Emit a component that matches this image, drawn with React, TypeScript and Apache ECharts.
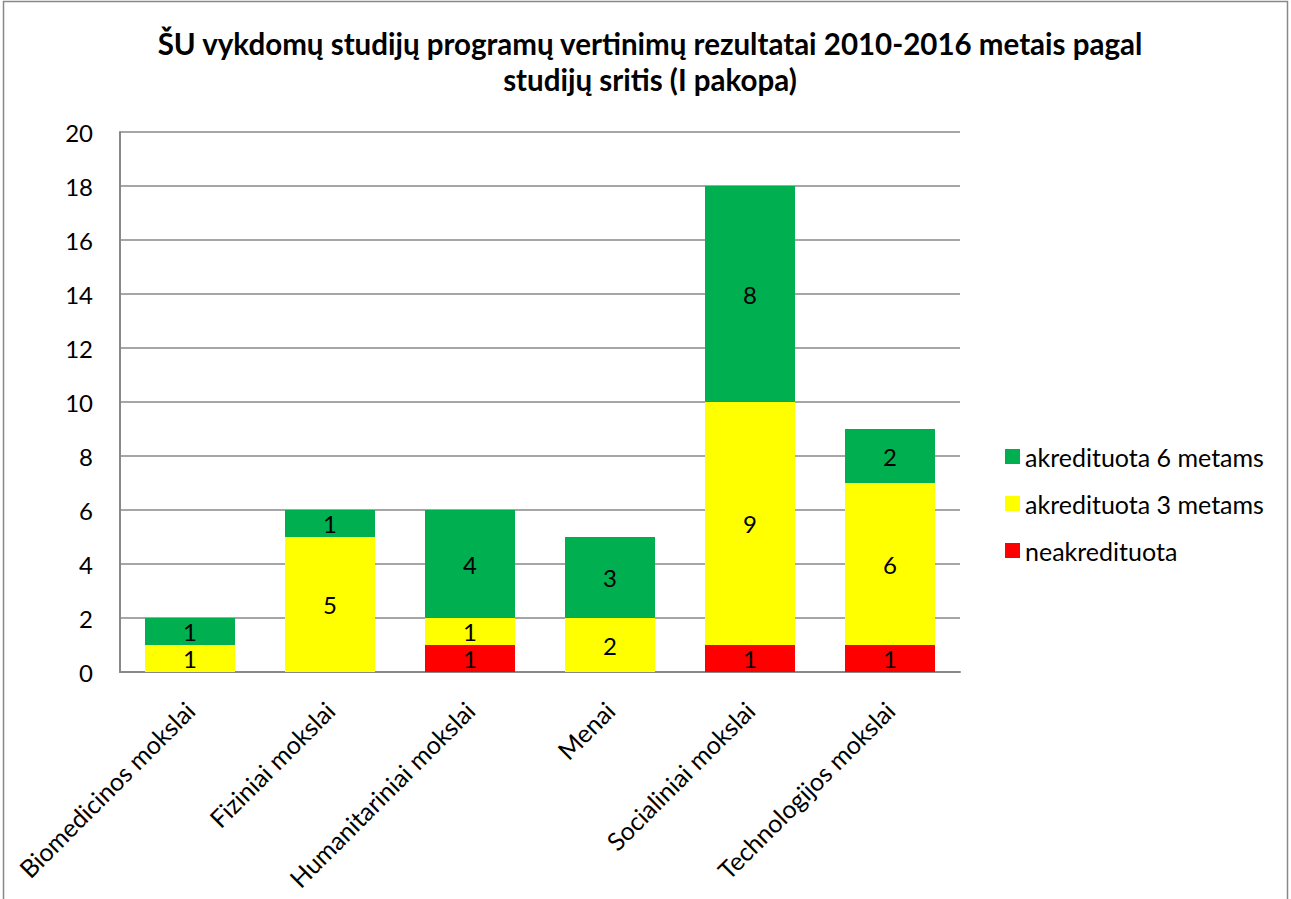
import React, { useEffect, useRef } from "react";
import * as echarts from "echarts";

const categories = [
  "Biomedicinos mokslai",
  "Fiziniai mokslai",
  "Humanitariniai mokslai",
  "Menai",
  "Socialiniai mokslai",
  "Technologijos mokslai",
];
const neakredituota = [null, null, 1, null, 1, 1];
const akred3 = [1, 5, 1, 2, 9, 6];
const akred6 = [1, 1, 4, 3, 8, 2];
const seriesNames = ["neakredituota", "akredituota 3 metams", "akredituota 6 metams"];
const FONT = "Lato, 'Noto Sans', sans-serif";

export default function App() {
  const ref = useRef<HTMLDivElement>(null);
  useEffect(() => {
    const chart = echarts.init(ref.current!, null, { renderer: "svg" });
    const label = {
      show: true,
      position: "inside",
      color: "#000",
      fontSize: 24,
      fontFamily: FONT,
    };
    const mk = (name: string, data: (number | null)[], color: string) => ({
      name,
      type: "bar",
      stack: "total",
      data,
      barWidth: 90,
      itemStyle: { color },
      label,
    });
    chart.setOption({
      animation: false,
      backgroundColor: "#fff",
      title: {
        text: "ŠU vykdomų studijų programų vertinimų rezultatai 2010-2016 metais pagal\nstudijų sritis (I pakopa)",
        left: 645,
        top: 20,
        textAlign: "center",
        textStyle: {
          fontFamily: FONT,
          fontWeight: "bold",
          fontSize: 29.5,
          lineHeight: 36,
          color: "#000",
        },
      },
      graphic: [
        {
          type: "rect",
          shape: { x: 3.5, y: 1.5, width: 1284, height: 920 },
          style: { fill: "none", stroke: "#888", lineWidth: 1.5 },
          silent: true,
        },
      ],
      legend: {
        orient: "vertical",
        left: 1000,
        top: 439,
        itemWidth: 15,
        itemHeight: 15,
        itemGap: 22,
        icon: "rect",
        data: [seriesNames[2], seriesNames[1], seriesNames[0]],
        textStyle: { fontFamily: FONT, fontSize: 25, color: "#000" },
      },
      grid: { left: 120, right: 331, top: 132, bottom: 227, containLabel: false },
      xAxis: {
        type: "category",
        data: categories,
        axisLine: { lineStyle: { color: "#888", width: 2 } },
        axisTick: { show: false },
        axisLabel: {
          rotate: 45,
          interval: 0,
          margin: 34,
          fontFamily: FONT,
          fontSize: 25,
          color: "#000",
        },
      },
      yAxis: {
        type: "value",
        min: 0,
        max: 20,
        interval: 2,
        axisLine: { show: true, lineStyle: { color: "#888", width: 2 } },
        axisTick: { show: false },
        splitLine: { lineStyle: { color: "#888", width: 1.5 } },
        axisLabel: {
          margin: 27,
          fontFamily: FONT,
          fontSize: 24,
          color: "#000",
        },
      },
      series: [
        mk(seriesNames[0], neakredituota, "#FF0000"),
        mk(seriesNames[1], akred3, "#FFFF00"),
        mk(seriesNames[2], akred6, "#00B050"),
      ],
    });
    return () => chart.dispose();
  }, []);
  return (
    <div
      ref={ref}
      style={{ position: "fixed", left: 0, top: 0, width: 1291, height: 899 }}
    />
  );
}
